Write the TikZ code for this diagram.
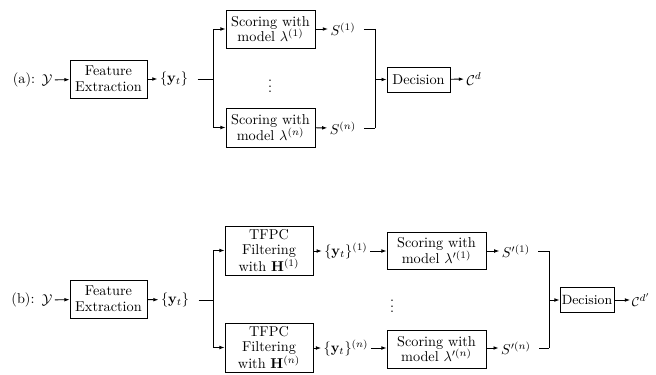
\documentclass[tikz,border=0pt]{standalone}
\usetikzlibrary{arrows.meta}
\begin{document}
\begin{tikzpicture}[x=0.7pt,y=-0.7pt,
  every path/.style={line width=0.6pt},
  arr/.style={-{Latex[length=3.6pt,width=2.6pt]}},
  gapl/.style={shorten <=4pt},
  blk/.style={draw,line width=0.6pt,align=center,inner sep=1pt,
    font=\fontsize{10pt}{11pt}\selectfont},
  lbl/.style={inner sep=1.5pt,font=\fontsize{10pt}{11pt}\selectfont},
  smallf/.style={font=\fontsize{9.4pt}{10.5pt}\selectfont}]
\path[use as bounding box] (0,0) rectangle (656,374);

% ---------------- (a) ----------------
\node[lbl] (la) at (24,80) {(a):};
\node[lbl] (Ya) at (47,80) {$\mathcal{Y}$};
\node[blk,minimum width=54pt,minimum height=26.6pt] (fea) at (108.5,79) {Feature\\Extraction};
\node[lbl] (yta) at (174,79) {$\{\mathbf{y}_t\}$};
\coordinate (ja) at (213,79);
\node[blk,minimum width=62.3pt,minimum height=26.6pt] (sa1) at (270.5,29) {Scoring with\\model $\lambda^{(1)}$};
\node[blk,minimum width=62.3pt,minimum height=27.3pt] (san) at (270.5,127.5) {Scoring with\\model $\lambda^{(n)}$};
\node[lbl] (dotsa) at (270,82) {$\vdots$};
\node[lbl] (S1) at (343,29) {$S^{(1)}$};
\node[lbl] (Sn) at (343,128) {$S^{(n)}$};
\coordinate (ca1) at (375,29);
\coordinate (can) at (375,128);
\coordinate (cam) at (375,79.5);
\node[blk,minimum width=44pt,minimum height=17.5pt] (dec) at (418.5,79.5) {Decision};
\node[lbl] (Cd) at (474,79) {$\mathcal{C}^d$};

\draw[arr] (Ya) -- (fea);
\draw[arr] (fea) -- (yta);
\draw[shorten <=5pt] (yta) -- (ja);
\draw[arr] (ja) |- (sa1.west);
\draw[arr] (ja) |- (san.west);
\draw[arr] (sa1) -- (S1);
\draw[arr] (san) -- (Sn);
\draw[gapl] (S1) -- (ca1);
\draw[gapl] (Sn) -- (can);
\draw (ca1) -- (can);
\draw[arr] (cam) -- (dec);
\draw[arr] (dec) -- (Cd);

% ---------------- (b) ----------------
\node[lbl] (lb) at (23,300) {(b):};
\node[lbl] (Yb) at (47,300) {$\mathcal{Y}$};
\node[blk,minimum width=54pt,minimum height=26.6pt] (feb) at (108.5,299) {Feature\\Extraction};
\node[lbl] (ytb) at (175,300) {$\{\mathbf{y}_t\}$};
\coordinate (jb) at (213,300);
\node[blk,minimum width=61.6pt,minimum height=34.3pt,font=\fontsize{10pt}{10.5pt}\selectfont] (tf1) at (269,250.5) {TFPC\\Filtering\\with $\mathbf{H}^{(1)}$};
\node[blk,minimum width=61.6pt,minimum height=34.3pt,font=\fontsize{10pt}{10.5pt}\selectfont] (tfn) at (269,347.5) {TFPC\\Filtering\\with $\mathbf{H}^{(n)}$};
\node[lbl] (yt1) at (346,251) {$\{\mathbf{y}_t\}^{(1)}$};
\node[lbl] (ytn) at (346,348) {$\{\mathbf{y}_t\}^{(n)}$};
\node[blk,minimum width=69.3pt,minimum height=26pt] (sc1) at (436.5,250.5) {Scoring with\\model $\lambda'^{(1)}$};
\node[blk,minimum width=69.3pt,minimum height=26.6pt] (scn) at (436.5,349) {Scoring with\\model $\lambda'^{(n)}$};
\node[lbl] (dotsb) at (392,302) {$\vdots$};
\node[lbl] (Sp1) at (516,251) {$S'^{(1)}$};
\node[lbl] (Spn) at (516,348) {$S'^{(n)}$};
\coordinate (cb1) at (549,251);
\coordinate (cbn) at (549,348);
\coordinate (cbm) at (549,300);
\node[blk,smallf,minimum width=37.8pt,minimum height=18pt,inner sep=0.8pt] (decb) at (587,300) {Decision};
\node[lbl,smallf,inner sep=1pt] (Cdb) at (641,300) {$\mathcal{C}^{d'}$};

\draw[arr] (Yb) -- (feb);
\draw[arr] (feb) -- (ytb);
\draw[shorten <=5pt] (ytb) -- (jb);
\draw[arr] (jb) |- (tf1.west);
\draw[arr] (jb) |- (tfn.west);
\draw[arr] (tf1.east |- yt1) -- (yt1);
\draw[arr] (tfn.east |- ytn) -- (ytn);
\draw[arr] (yt1) -- (sc1.west |- yt1);
\draw[arr] (ytn) -- (scn.west |- ytn);
\draw[arr] (sc1.east |- Sp1) -- (Sp1);
\draw[arr] (scn.east |- Spn) -- (Spn);
\draw[gapl] (Sp1) -- (cb1);
\draw[gapl] (Spn) -- (cbn);
\draw (cb1) -- (cbn);
\draw[arr] (cbm) -- (decb);
\draw[arr] (decb) -- (Cdb);
\end{tikzpicture}
\end{document}
